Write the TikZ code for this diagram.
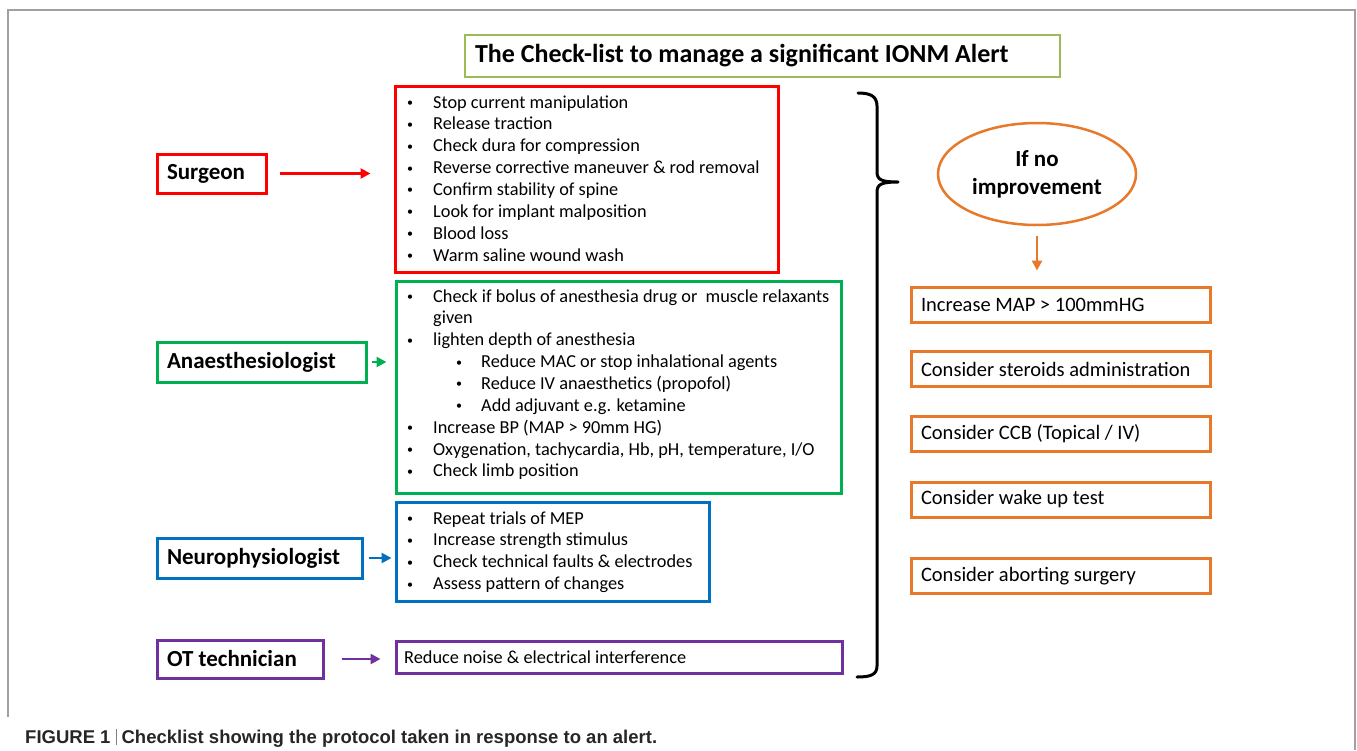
\documentclass[tikz,border=0pt]{standalone}
\usepackage{fontspec}
\setmainfont{Carlito}
\newfontfamily\capfont{Liberation Sans}
\usetikzlibrary{arrows.meta,shapes.geometric,fit}
\definecolor{cred}{HTML}{FF0000}
\definecolor{cgreen}{HTML}{00B050}
\definecolor{cblue}{HTML}{0070C0}
\definecolor{cpurple}{HTML}{7030A0}
\definecolor{corange}{HTML}{E8782A}
\definecolor{ctitle}{HTML}{9BBB59}
\definecolor{cframe}{HTML}{A0A0A0}
\newcommand\smallbul{\raisebox{1.5pt}{\fontsize{12}{12}\selectfont\textbullet}}
\newcommand\bul{\makebox[27pt][l]{\hspace*{1pt}\smallbul}}
\newcommand\sbul{\hspace*{49pt}\makebox[26pt][l]{\hspace*{1pt}\smallbul}}
\newcommand\nsp{\spaceskip=0pt\xspaceskip=0pt\relax}
\newcommand\mkbox[6]{%
  \path (#3,#4) coordinate (#1a) (#5,#6) coordinate (#1b);
  \node[listbox, draw=#2, fit=(#1a)(#1b)] (#1) {};}
\begin{document}
\begin{tikzpicture}[x=1pt,y=-1pt,
  listbox/.style={rectangle, inner sep=0pt, line width=3pt},
  lbl/.style={rectangle, line width=3pt, inner xsep=10pt, inner ysep=0pt,
    align=left, font=\fontsize{23}{28}\selectfont\bfseries, minimum height=40pt},
  obox/.style={rectangle, draw=corange, line width=3pt, inner xsep=10pt, inner ysep=0pt,
    text width=279pt, align=left, minimum height=35pt, font=\fontsize{20.5}{24}\selectfont},
  listtxt/.style={anchor=base west, inner sep=0pt, font=\fontsize{18.3}{21.86}\selectfont},
  arr/.style={line width=2.5pt, -{Triangle[length=10pt,width=10pt]}},
  brace/.style={line width=3pt, line cap=round, line join=round}
]
\useasboundingbox (0,0) rectangle (1357,750);
% frame
\draw[cframe, line width=2pt] (8,717) -- (8,10) -- (1355,10) -- (1355,750);

% title
\node[rectangle, draw=ctitle, line width=2.5pt, text width=575pt, inner xsep=10pt,
  inner ysep=0pt, minimum height=42pt, align=left,
  font=\fontsize{26}{30}\selectfont\bfseries] (title) at (762.5,56)
  {\nsp The Check-list to manage a significant IONM Alert};

% surgeon
\node[lbl, draw=cred, text width=89pt, minimum height=39pt] (sg) at (211.5,173.5) {Surgeon};
\mkbox{sl}{cred}{395}{86}{778}{272}
\node[listtxt] (sltxt) at (406,108) {\begin{tabular}[t]{@{}l@{}}
\bul Stop current manipulation\\
\bul Release traction\\
\bul Check dura for compression\\
\bul Reverse corrective maneuver \& rod removal\\
\bul Confirm stability of spine\\
\bul Look for implant malposition\\
\bul Blood loss\\
\bul Warm saline wound wash
\end{tabular}};
\draw[arr, cred, shorten <=12pt, shorten >=23pt] (sg.east) -- (sg.east -| sl.west);

% anaesthesiologist
\node[lbl, draw=cgreen, text width=189pt] (an) at (261.5,362) {Anaesthesiologist};
\mkbox{al}{cgreen}{396}{281}{841}{493}
\node[listtxt] (altxt) at (406,302) {\begin{tabular}[t]{@{}l@{}}
\bul Check if bolus of anesthesia drug or\ \ muscle relaxants\\
\hspace*{27pt}given\\
\bul lighten depth of anesthesia\\
\sbul Reduce MAC or stop inhalational agents\\
\sbul Reduce IV anaesthetics (propofol)\\
\sbul Add adjuvant e.g. ketamine\\
\bul Increase BP (MAP > 90mm HG)\\
\bul Oxygenation, tachycardia, Hb, pH, temperature, I/O\\
\bul Check limb position
\end{tabular}};
\draw[arr, cgreen, shorten <=4pt, shorten >=8pt] (an.east) -- (an.east -| al.west);

% neurophysiologist
\node[lbl, draw=cblue, text width=185pt] (ne) at (259.5,558) {Neurophysiologist};
\mkbox{nl}{cblue}{396}{502}{709}{601}
\node[listtxt] (nltxt) at (406,524) {\begin{tabular}[t]{@{}l@{}}
\bul Repeat trials of MEP\\
\bul Increase strength stimulus\\
\bul Check technical faults \& electrodes\\
\bul Assess pattern of changes
\end{tabular}};
\draw[arr, cblue, shorten <=5pt, shorten >=3pt] (ne.east) -- (ne.east -| nl.west);

% OT technician
\node[lbl, draw=cpurple, text width=146pt, minimum height=38pt] (ot) at (240,659) {\nsp OT technician};
\mkbox{ol}{cpurple}{396}{641}{842}{673}
\node[listtxt] (oltxt) at (404,663) {Reduce noise \& electrical interference};
\draw[arr, cpurple, shorten <=17pt, shorten >=14pt] (ot.east) -- (ot.east -| ol.west);

% brace
\draw[brace] (858,93) .. controls (870,93) and (877,96) .. (877,106) -- (877,172)
  .. controls (877,180) and (882,182) .. (898,182)
  .. controls (882,182) and (877,184) .. (877,192) -- (877,666)
  .. controls (877,675) and (870,677) .. (857,677);

% right side
\node[ellipse, draw=corange, line width=2.5pt, minimum width=198pt, minimum height=102pt,
  inner sep=0pt, align=center, font=\fontsize{23}{28}\selectfont\bfseries] (ell) at (1037,174)
  {If no\\improvement};
\node[obox] (o1) at (1060.5,304.5) {\nsp Increase MAP > 100mmHG};
\node[obox] (o2) at (1060.5,369) {\nsp Consider steroids administration};
\node[obox] (o3) at (1060.5,434) {\nsp Consider CCB (Topical / IV)};
\node[obox] (o4) at (1060.5,499.5) {\nsp Consider wake up test};
\node[obox] (o5) at (1060.5,576) {\nsp Consider aborting surgery};
\draw[arr, corange, line width=2.5pt, shorten <=10pt, shorten >=15pt] (ell.south) -- (o1.north -| ell.south);

% caption
\node[anchor=base west, inner sep=0pt, font=\capfont\bfseries\fontsize{18.5}{20}\selectfont, text=black!85] (cap) at (25,743)
  {FIGURE 1 {\color{black!50}\rule[-2pt]{0.8pt}{16pt}} Checklist showing the protocol taken in response to an alert.};
\end{tikzpicture}
\end{document}
